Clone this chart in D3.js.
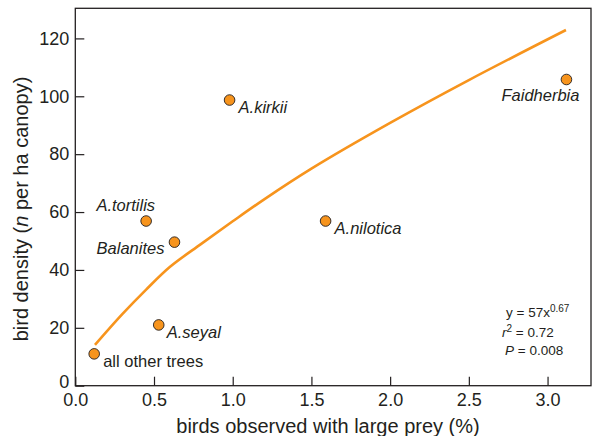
<!DOCTYPE html>
<html>
<head>
<meta charset="utf-8">
<script src="https://cdn.jsdelivr.net/npm/d3@7"></script>
<style>
  body { margin: 0; background: #fff; }
  svg text { font-family: "Liberation Sans", Arial, Helvetica, sans-serif; fill: #231f20; }
</style>
</head>
<body>
<svg id="chart" width="597" height="436"></svg>
<script>
// ---- data ----
let treeNames = ['all other trees', 'A.seyal', 'A.tortilis', 'Balanites', 'A.kirkii', 'A.nilotica', 'Faidherbia'];
let largePrey = [0.12, 0.53, 0.45, 0.63, 0.98, 1.59, 3.12];   // % birds with large prey
let birdDensity = [11.0, 21.0, 56.9, 49.6, 98.7, 56.9, 105.8]; // n per ha canopy
let italicName = [false, true, true, true, true, true, true];

// fitted curve y = 57x^0.67
let fitX = [0.125, 0.3, 0.45, 0.6, 0.8, 1.0, 1.2, 1.5, 2.0, 2.5, 3.117];
let fitY = [14.1, 24.8, 33.2, 41.0, 49.0, 56.8, 64.4, 75.0, 90.8, 105.6, 122.9];

let xTicks = [0, 0.5, 1.0, 1.5, 2.0, 2.5, 3.0];
let yTicks = [0, 20, 40, 60, 80, 100, 120];

// label offsets from the point centre (px) and anchor
let labelDx = [9, 8, 9, -10, 9, 9, 13];
let labelDy = [13, 13, -10, 12, 13, 13, 22];
let labelAnchor = ['start', 'start', 'end', 'end', 'start', 'start', 'end'];

/*********************** SETUP ********************************/
let svg = d3.select('#chart');
let plotLeft = 75.3, plotRight = 591, plotTop = 8.3, plotBottom = 385.7;

let x = d3.scaleLinear().domain([0, 3.276]).range([plotLeft, plotRight]);
let y = d3.scaleLinear().domain([0, 130.4]).range([plotBottom, plotTop]);

/*********************** AXES ********************************/
let xAxis = svg.append('g')
    .attr('transform', 'translate(0,' + plotBottom + ')')
    .call(d3.axisBottom(x).tickValues(xTicks).tickFormat(d3.format('.1f'))
        .tickSizeInner(-9).tickSizeOuter(0).tickPadding(7.5));

let yAxis = svg.append('g')
    .attr('transform', 'translate(' + plotLeft + ',0)')
    .call(d3.axisLeft(y).tickValues(yTicks)
        .tickSizeInner(-9).tickSizeOuter(0).tickPadding(6));

[xAxis, yAxis].forEach((g) => {
    g.select('.domain').remove();
    g.attr('font-family', null).attr('font-size', null);
    g.selectAll('.tick line').attr('stroke', '#231f20').attr('stroke-width', 1.2);
    g.selectAll('.tick text').attr('font-size', 18).style('fill', '#231f20');
});
// the "0" on the y axis sits a touch high in the original, clear of "0.0"
yAxis.selectAll('.tick text').filter((d) => d === 0).attr('dy', '0.1em');

// frame round the plot
svg.append('rect')
    .attr('x', plotLeft)
    .attr('y', plotTop)
    .attr('width', plotRight - plotLeft)
    .attr('height', plotBottom - plotTop)
    .attr('fill', 'none')
    .attr('stroke', '#231f20')
    .attr('stroke-width', 1.3);

// axis titles
svg.append('text')
    .attr('x', 328)
    .attr('y', 432.5)
    .attr('text-anchor', 'middle')
    .attr('font-size', 20)
    .text('birds observed with large prey (%)');

let yTitle = svg.append('text')
    .attr('transform', 'translate(28,209) rotate(-90)')
    .attr('text-anchor', 'middle')
    .attr('font-size', 20);
yTitle.append('tspan').text('bird density (');
yTitle.append('tspan').attr('font-style', 'italic').text('n');
yTitle.append('tspan').text(' per ha canopy)');

/*********************** FIT CURVE ********************************/
let line = d3.line()
    .x((d, i) => x(fitX[i]))
    .y((d, i) => y(fitY[i]))
    .curve(d3.curveCatmullRom.alpha(0.5));

svg.append('path')
    .attr('d', line(fitX))
    .attr('fill', 'none')
    .attr('stroke', '#f7941d')
    .attr('stroke-width', 2.6);

/*********************** POINTS ********************************/
let pts = svg.append('g');
treeNames.forEach((name, i) => {
    pts.append('circle')
        .attr('cx', x(largePrey[i]))
        .attr('cy', y(birdDensity[i]))
        .attr('r', 5.3)
        .attr('fill', '#f7941d')
        .attr('stroke', '#231f20')
        .attr('stroke-width', 0.9);
    pts.append('text')
        .attr('x', x(largePrey[i]) + labelDx[i])
        .attr('y', y(birdDensity[i]) + labelDy[i])
        .attr('text-anchor', labelAnchor[i])
        .attr('font-size', 16.5)
        .attr('font-style', italicName[i] ? 'italic' : 'normal')
        .text(name);
});

/*********************** STATS ********************************/
let stats = svg.append('g').attr('font-size', 13.5);
let s1 = stats.append('text').attr('x', 506).attr('y', 317);
s1.append('tspan').text('y = 57x');
s1.append('tspan').attr('font-size', 10).attr('dy', -5).text('0.67');

let s2 = stats.append('text').attr('x', 502).attr('y', 337);
s2.append('tspan').attr('font-style', 'italic').text('r');
s2.append('tspan').attr('font-size', 10).attr('dy', -5).text('2');
s2.append('tspan').attr('dy', 5).text(' = 0.72');

let s3 = stats.append('text').attr('x', 505).attr('y', 355);
s3.append('tspan').attr('font-style', 'italic').text('P');
s3.append('tspan').text(' = 0.008');
</script>
</body>
</html>
